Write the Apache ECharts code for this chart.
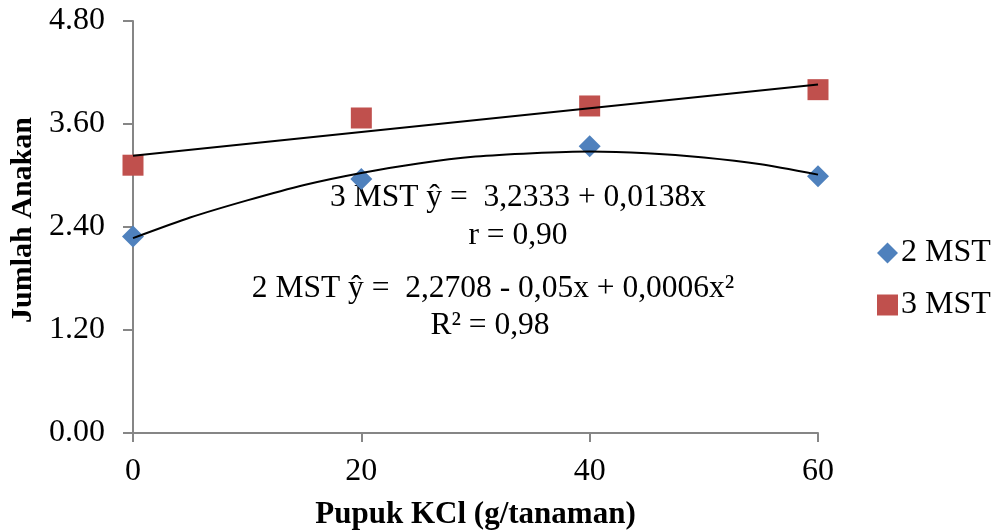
<!DOCTYPE html>
<html>
<head>
<meta charset="utf-8">
<script src="https://cdn.jsdelivr.net/npm/echarts@6/dist/echarts.min.js"></script>
<style>
  html, body { margin: 0; padding: 0; background: #fff; }
  #chart { width: 995px; height: 532px; }
</style>
</head>
<body>
<div id="chart"></div>
<script>
// dosis pupuk KCl (g/tanaman)
const dosis = [0, 20, 40, 60]
// jumlah anakan per pengamatan
const mst2 = [2.29, 2.96, 3.34, 2.99]
const mst3 = [3.12, 3.67, 3.81, 4.00]
// garis tren
const trendX2 = [0, 5, 10, 15, 20, 25, 30, 35, 40, 45, 50, 55, 60]
const trend2 = [2.27, 2.51, 2.71, 2.89, 3.03, 3.14, 3.22, 3.26, 3.28, 3.26, 3.21, 3.13, 3.01]
const trendX3 = [0, 60]
const trend3 = [3.23, 4.06]
const yTicks = [0, 1.2, 2.4, 3.6, 4.8]

const font = '"Liberation Serif", "Times New Roman", serif'
const colors = ['#4F81BD', '#C0504D']
const axisGray = '#868686'

const pairs = (xs, ys) => xs.map((x, i) => [x, ys[i]])

const chart = echarts.init(document.getElementById('chart'))
chart.setOption({
  animation: false,
  textStyle: { fontFamily: font },
  grid: { left: 133, top: 21, width: 685, height: 412, containLabel: false, outerBoundsMode: 'none' },
  xAxis: {
    type: 'value',
    min: 0,
    max: 60,
    interval: 20,
    splitLine: { show: false },
    axisLine: { lineStyle: { color: axisGray, width: 2 } },
    axisTick: { show: true, length: 9, lineStyle: { color: axisGray, width: 2 } },
    axisLabel: { color: '#000', fontSize: 32, fontFamily: font, margin: 23 },
    name: 'Pupuk KCl (g/tanaman)',
    nameLocation: 'middle',
    nameGap: 66,
    nameTextStyle: { color: '#000', fontSize: 31, fontWeight: 'bold', fontFamily: font }
  },
  yAxis: {
    type: 'value',
    min: yTicks[0],
    max: yTicks[yTicks.length - 1],
    interval: 1.2,
    splitLine: { show: false },
    axisLine: { show: true, lineStyle: { color: axisGray, width: 2 } },
    axisTick: { show: true, length: 10, lineStyle: { color: axisGray, width: 2 } },
    axisLabel: {
      color: '#000', fontSize: 32, fontFamily: font, margin: 28,
      formatter: v => v.toFixed(2)
    },
    name: 'Jumlah Anakan',
    nameLocation: 'middle',
    nameGap: 92,
    nameRotate: 90,
    nameTextStyle: { color: '#000', fontSize: 30, fontWeight: 'bold', fontFamily: font, padding: [0, 0, 0, 14] }
  },
  legend: {
    data: ['2 MST', '3 MST'],
    orient: 'vertical',
    left: 872,
    top: 232,
    itemGap: 20,
    itemWidth: 21,
    itemHeight: 21,
    textStyle: { color: '#000', fontSize: 32, fontFamily: font, padding: [0, 0, 0, -2] }
  },
  series: [
    {
      name: '2 MST',
      type: 'scatter',
      symbol: 'diamond',
      symbolSize: 22,
      itemStyle: { color: colors[0], opacity: 1 },
      data: pairs(dosis, mst2),
      z: 2
    },
    {
      name: '3 MST',
      type: 'scatter',
      symbol: 'rect',
      symbolSize: 21,
      itemStyle: { color: colors[1], opacity: 1 },
      data: pairs(dosis, mst3),
      z: 2
    },
    {
      name: 'tren 2',
      type: 'line',
      smooth: 0.2,
      showSymbol: false,
      lineStyle: { color: '#000', width: 2 },
      data: pairs(trendX2, trend2),
      z: 5
    },
    {
      name: 'tren 3',
      type: 'line',
      showSymbol: false,
      lineStyle: { color: '#000', width: 2 },
      data: pairs(trendX3, trend3),
      z: 5
    }
  ],
  graphic: [
    {
      type: 'text', x: 518, y: 198,
      style: { text: '3 MST ŷ =  3,2333 + 0,0138x', font: '31.5px ' + font, fill: '#000', align: 'center', verticalAlign: 'middle' }
    },
    {
      type: 'text', x: 518, y: 236,
      style: { text: 'r = 0,90', font: '31.5px ' + font, fill: '#000', align: 'center', verticalAlign: 'middle' }
    },
    {
      type: 'text', x: 493, y: 289,
      style: { text: '2 MST ŷ =  2,2708 - 0,05x + 0,0006x²', font: '31.5px ' + font, fill: '#000', align: 'center', verticalAlign: 'middle' }
    },
    {
      type: 'text', x: 490, y: 326,
      style: { text: 'R² = 0,98', font: '31.5px ' + font, fill: '#000', align: 'center', verticalAlign: 'middle' }
    }
  ]
})
</script>
</body>
</html>
